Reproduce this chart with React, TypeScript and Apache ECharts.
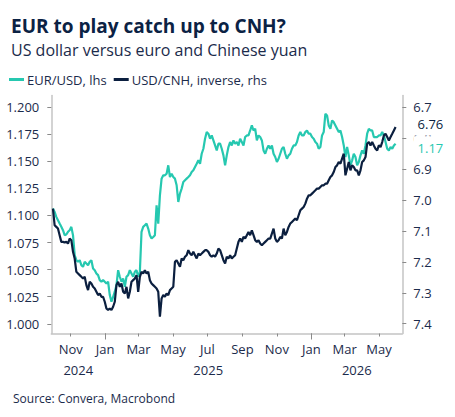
import React, { useEffect, useRef } from "react";
import * as echarts from "echarts";

const DAY_MS = 86400000;

const SERIES_START = "2024-09-30T12:00:00Z";
const SAMPLE_STEP_DAYS = 2.96;

const EURUSD = [
  1.1064, 1.1033, 1.0987, 1.0956, 1.0925, 1.0895, 1.0864, 1.0818, 1.0824, 1.0849,
  1.0864, 1.0895, 1.0818, 1.0633, 1.0587, 1.0572, 1.0587, 1.0541, 1.0526, 1.0572,
  1.0557, 1.0541, 1.0572, 1.0587, 1.0511, 1.0495, 1.0465, 1.0449, 1.0403, 1.0388,
  1.0403, 1.0388, 1.0372, 1.0388, 1.0265, 1.0203, 1.0249, 1.0296, 1.0357, 1.0495,
  1.0434, 1.0388, 1.0418, 1.0342, 1.0434, 1.0449, 1.0495, 1.0465, 1.0434, 1.048,
  1.0495, 1.0434, 1.048, 1.0849, 1.0895, 1.091, 1.0925, 1.0879, 1.0818, 1.0787,
  1.0802, 1.0818, 1.1094, 1.0925, 1.1186, 1.134, 1.1371, 1.1371, 1.1386, 1.1463,
  1.1355, 1.1386, 1.1355, 1.134, 1.1279, 1.1125, 1.1202, 1.1248, 1.1309, 1.1325,
  1.134, 1.1355, 1.1371, 1.1401, 1.1417, 1.1448, 1.1478, 1.1509, 1.1478, 1.157,
  1.1616, 1.1709, 1.177, 1.1755, 1.1709, 1.1739, 1.1693, 1.1647, 1.1601, 1.1663,
  1.1663, 1.1616,
  1.1555, 1.1463, 1.1555, 1.1632, 1.1678, 1.1647, 1.1693, 1.1663, 1.1678, 1.1647,
  1.1709, 1.1678, 1.1647, 1.1724, 1.1739, 1.1739, 1.1785, 1.1832, 1.1785, 1.1801,
  1.1693, 1.1739, 1.1724, 1.1693, 1.1601, 1.157, 1.1616, 1.1647, 1.1616, 1.1647,
  1.157, 1.154, 1.1494, 1.1524, 1.157, 1.1616, 1.1632, 1.157, 1.1524, 1.1555,
  1.157, 1.1616, 1.1647, 1.1647, 1.1678, 1.1739, 1.177, 1.1739, 1.1739, 1.177,
  1.1785, 1.1755,
  1.1755, 1.1724, 1.1709, 1.1678, 1.1663, 1.1616, 1.1632, 1.1739, 1.177, 1.1939,
  1.1924, 1.1832, 1.1801, 1.1878, 1.1862, 1.1832, 1.1801, 1.177, 1.1785, 1.1724,
  1.1647, 1.154, 1.1632, 1.1555, 1.1463, 1.1509, 1.157, 1.154, 1.1463, 1.1494,
  1.1555, 1.1601, 1.157, 1.1647, 1.1755, 1.1801, 1.1785, 1.1785, 1.1724, 1.1724,
  1.1724, 1.1739, 1.1739, 1.177, 1.1739, 1.1678, 1.1616, 1.1601, 1.1632, 1.1616,
  1.1647, 1.1663,
];

const USDCNH = [
  7.0279, 7.0817, 7.087, 7.0924, 7.1139, 7.1354, 7.1354, 7.1376, 7.1354, 7.1408,
  7.1247, 7.13, 7.1677, 7.1892, 7.2322, 7.2376, 7.243, 7.2484, 7.2537, 7.2484,
  7.2752, 7.2914, 7.2645, 7.2699, 7.2806, 7.286, 7.2967, 7.3075, 7.3021, 7.3129,
  7.3129, 7.329, 7.3505, 7.3559, 7.3505, 7.3559, 7.3451, 7.329, 7.2752, 7.2645,
  7.2806, 7.2699, 7.2967, 7.3021, 7.2806, 7.3182, 7.2967, 7.2645, 7.2591, 7.2537,
  7.243, 7.2967, 7.2484, 7.2322, 7.2376, 7.2268, 7.2376, 7.2322, 7.2591, 7.2699,
  7.2752, 7.2806, 7.286, 7.2967, 7.3774, 7.3182, 7.3075, 7.3129, 7.3021, 7.3075,
  7.2914, 7.286, 7.2806, 7.1999, 7.1946, 7.2053, 7.2161, 7.1892, 7.1946, 7.1838,
  7.1784, 7.1623, 7.1731, 7.1784, 7.1677, 7.1784, 7.1892, 7.1731, 7.1784, 7.1731,
  7.1677, 7.1623, 7.1623, 7.1677, 7.1784, 7.1838, 7.1784, 7.1838, 7.1731, 7.1569,
  7.1623, 7.1784,
  7.1946, 7.2053, 7.1838, 7.1892, 7.1784, 7.1892, 7.1838, 7.1784, 7.1569, 7.1354,
  7.1247, 7.1354, 7.1193, 7.1247, 7.1139, 7.1032, 7.1139, 7.0978, 7.1139, 7.13,
  7.1354, 7.13, 7.1408, 7.1462, 7.1408, 7.1354, 7.13, 7.1247, 7.1247, 7.1085,
  7.0924, 7.1247, 7.1354, 7.13, 7.1193, 7.1247, 7.0924, 7.1139, 7.1032, 7.087,
  7.0763, 7.0709, 7.0655, 7.0602, 7.0655, 7.0494, 7.0333, 7.0279, 7.0225, 7.0118,
  6.9957, 6.9849,
  6.9849, 6.9795, 6.9741, 6.9688, 6.9634, 6.9634, 6.958, 6.9526, 6.9526, 6.9473,
  6.9473, 6.9365, 6.9257, 6.9204, 6.9096, 6.8935, 6.8881, 6.8774, 6.8827, 6.8666,
  6.8505, 6.9204, 6.8989, 6.8774, 6.9042, 6.8881, 6.8935, 6.9042, 6.9042, 6.9204,
  6.9042, 6.8774, 6.872, 6.8612, 6.8182, 6.8128, 6.8236, 6.8128, 6.8236, 6.8343,
  6.8397, 6.8236, 6.829, 6.8128, 6.7913, 6.786, 6.7967, 6.8075, 6.7967, 6.786,
  6.7752, 6.7645,
];

const X_MIN = "2024-09-27T14:00:00Z";
const X_MAX = "2026-06-11T05:00:00Z";
const MONTH_TICKS = [
  "2024-11-01", "2025-01-01", "2025-03-01", "2025-05-01", "2025-07-01",
  "2025-09-01", "2025-11-01", "2026-01-01", "2026-03-01", "2026-05-01",
];
const YEAR_STARTS = ["2025-01-01", "2026-01-01"];
const MONTH_NAMES = ["Jan", "Feb", "Mar", "Apr", "May", "Jun", "Jul", "Aug", "Sep", "Oct", "Nov", "Dec"];

const LEFT_TICKS = [1.0, 1.025, 1.05, 1.075, 1.1, 1.125, 1.15, 1.175, 1.2];
const LEFT_MIN = 0.991;
const LEFT_MAX = 1.2108;
const RIGHT_TICKS = [6.7, 6.8, 6.9, 7.0, 7.1, 7.2, 7.3, 7.4];
const RIGHT_MIN = 6.6623;
const RIGHT_MAX = 7.4316;

const TITLE = "EUR to play catch up to CNH?";
const SUBTITLE = "US dollar versus euro and Chinese yuan";
const SOURCE = "Source: Convera, Macrobond";
const EUR_NAME = "EUR/USD, lhs";
const CNH_NAME = "USD/CNH, inverse, rhs";

const TEAL = "#26c8b0";
const NAVY = "#0b1f3f";
const TEXT = "#1b2b4b";
const AXIS_GREY = "#c4c4c4";
const FONT = "'Open Sans', 'Noto Sans', sans-serif";

export default function App() {
  const ref = useRef<HTMLDivElement>(null);

  useEffect(() => {
    if (!ref.current) return;
    const chart = echarts.init(ref.current, undefined, { renderer: "svg" });

    const t0 = Date.parse(SERIES_START);
    const stamp = (i: number) => t0 + i * SAMPLE_STEP_DAYS * DAY_MS;
    const eurData = EURUSD.map((v, i) => [stamp(i), v]);
    const cnhData = USDCNH.map((v, i) => [stamp(i), v]);

    const xMin = Date.parse(X_MIN);
    const xMax = Date.parse(X_MAX);
    const monthTicks = MONTH_TICKS.map((d) => Date.parse(d + "T00:00:00Z"));
    const yearStarts = YEAR_STARTS.map((d) => Date.parse(d + "T00:00:00Z"));
    const bounds = [xMin, ...yearStarts, xMax];
    const yearMids = bounds.slice(0, -1).map((b, i) => (b + bounds[i + 1]) / 2);

    const endLabel = (color: string, dy: number) => ({
      show: true,
      formatter: (p: any) => Number(p.value[1]).toFixed(2),
      color,
      fontSize: 13,
      fontFamily: FONT,
      backgroundColor: "#ffffff",
      padding: [5, 4, 5, 4],
      distance: 18,
      offset: [0, dy],
    });

    chart.setOption({
      animation: false,
      textStyle: { fontFamily: FONT, color: TEXT },
      title: [
        {
          text: TITLE,
          left: 6,
          top: 11,
          textStyle: { fontSize: 19, fontWeight: "bold", color: "#0b2244", fontFamily: FONT },
        },
        {
          text: SUBTITLE,
          left: 6,
          top: 37,
          textStyle: { fontSize: 16, fontWeight: "normal", color: TEXT, fontFamily: FONT },
        },
        {
          text: SOURCE,
          left: 8,
          top: 387,
          textStyle: { fontSize: 12, fontWeight: "normal", color: TEXT, fontFamily: FONT },
        },
      ],
      legend: {
        left: 4,
        top: 68,
        itemWidth: 15,
        itemHeight: 3,
        itemGap: 7,
        icon: "rect",
        textStyle: { fontSize: 13, color: TEXT, fontFamily: FONT, padding: [0, 0, 0, -2] },
        data: [EUR_NAME, CNH_NAME],
      },
      grid: { left: 51.3, right: 52.7, top: 95.5, bottom: 83.5, containLabel: false },
      xAxis: [
        {
          type: "value",
          min: xMin,
          max: xMax,
          splitLine: { show: false },
          axisLine: { show: true, lineStyle: { color: AXIS_GREY, width: 1.5 } },
          axisTick: { show: true, length: 3, customValues: monthTicks, lineStyle: { color: "#8a8a8a" } },
          axisLabel: {
            customValues: monthTicks,
            margin: 9,
            fontSize: 13,
            color: TEXT,
            fontFamily: FONT,
            formatter: (v: number) => MONTH_NAMES[new Date(v).getUTCMonth()],
          },
        },
        {
          type: "value",
          min: xMin,
          max: xMax,
          position: "bottom",
          splitLine: { show: false },
          axisLine: { show: false },
          axisTick: { show: true, length: 6, customValues: yearStarts, lineStyle: { color: "#8a8a8a" } },
          axisLabel: {
            customValues: yearMids,
            margin: 30,
            fontSize: 13,
            color: TEXT,
            fontFamily: FONT,
            formatter: (v: number) => String(new Date(v).getUTCFullYear()),
          },
        },
      ],
      yAxis: [
        {
          type: "value",
          position: "left",
          min: LEFT_MIN,
          max: LEFT_MAX,
          splitLine: { show: false },
          axisLine: { show: true, lineStyle: { color: AXIS_GREY, width: 1.5 } },
          axisTick: { show: true, length: 4, customValues: LEFT_TICKS, lineStyle: { color: "#8a8a8a" } },
          axisLabel: {
            customValues: LEFT_TICKS,
            margin: 12,
            fontSize: 13,
            color: TEXT,
            fontFamily: FONT,
            formatter: (v: number) => v.toFixed(3),
          },
        },
        {
          type: "value",
          position: "right",
          inverse: true,
          min: RIGHT_MIN,
          max: RIGHT_MAX,
          splitLine: { show: false },
          axisLine: { show: true, lineStyle: { color: AXIS_GREY, width: 1.5 } },
          axisTick: { show: true, length: 4, customValues: RIGHT_TICKS, lineStyle: { color: "#8a8a8a" } },
          axisLabel: {
            customValues: RIGHT_TICKS,
            margin: 11,
            fontSize: 13,
            color: TEXT,
            fontFamily: FONT,
            formatter: (v: number) => v.toFixed(1),
          },
        },
      ],
      series: [
        {
          name: EUR_NAME,
          type: "line",
          xAxisIndex: 0,
          yAxisIndex: 0,
          data: eurData,
          showSymbol: false,
          symbol: "none",
          color: TEAL,
          lineStyle: { width: 2.2, color: TEAL },
          endLabel: endLabel(TEAL, 4),
        },
        {
          name: CNH_NAME,
          type: "line",
          xAxisIndex: 0,
          yAxisIndex: 1,
          data: cnhData,
          showSymbol: false,
          symbol: "none",
          color: NAVY,
          lineStyle: { width: 2.2, color: NAVY },
          endLabel: endLabel(NAVY, -3),
        },
      ],
    });

    return () => chart.dispose();
  }, []);

  return (
    <div
      ref={ref}
      style={{ position: "absolute", left: 0, top: 0, width: 455, height: 417, background: "#ffffff" }}
    />
  );
}
